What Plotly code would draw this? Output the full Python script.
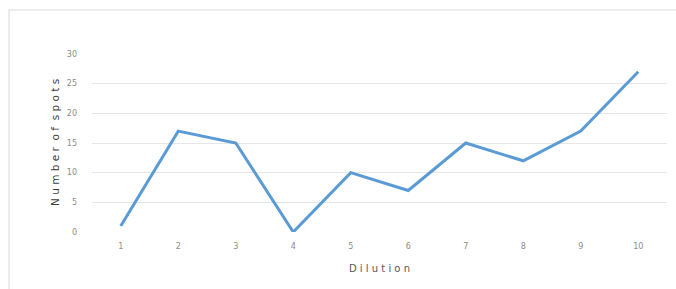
import plotly.graph_objects as go

dilution = [1, 2, 3, 4, 5, 6, 7, 8, 9, 10]
spots = [1, 17, 15, 0, 10, 7, 15, 12, 17, 27]
y_ticks = [0, 5, 10, 15, 20, 25, 30]
x_title = "D i l u t i o n"
y_title = "N u m b e r  o f  s p o t s"

W, H = 676, 289
L, R, T, B = 92, 9, 54, 57
pw, ph = W - L - R, H - T - B

def px_x(px):
    return (px - L) / pw

def px_y(py):
    return (H - B - py) / ph

fig = go.Figure()
fig.add_trace(go.Scatter(
    x=dilution, y=spots, mode="lines",
    line=dict(color="#5b9bd5", width=3),
    hoverinfo="skip",
))

tick_font = dict(family="DejaVu Sans, sans-serif", size=8, color="#8c8c8c")

fig.update_layout(
    width=W, height=H,
    margin=dict(l=L, r=R, t=T, b=B),
    paper_bgcolor="white", plot_bgcolor="white",
    showlegend=False,
    xaxis=dict(
        range=[0.5, 10.5], tickmode="array", tickvals=dilution,
        ticktext=[str(v) for v in dilution],
        showgrid=False, zeroline=False, showline=False, ticks="",
        tickfont=tick_font, ticklabelstandoff=8,
        title=dict(text=x_title, font=dict(family="DejaVu Sans, sans-serif", size=10, color="#595959"), standoff=14),
    ),
    yaxis=dict(
        range=[0, 30], tickmode="array", tickvals=y_ticks,
        showgrid=True, gridcolor="#e6e6e6", gridwidth=1,
        zeroline=False, showline=False, ticks="",
        tickfont=tick_font, ticklabelstandoff=14,
    ),
    shapes=[
        dict(type="line", xref="paper", yref="paper",
             x0=px_x(9), x1=px_x(676), y0=px_y(10), y1=px_y(10),
             line=dict(color="#d9d9d9", width=1)),
        dict(type="line", xref="paper", yref="paper",
             x0=px_x(9), x1=px_x(9), y0=px_y(10), y1=px_y(289),
             line=dict(color="#d9d9d9", width=1)),
    ],
    annotations=[
        dict(text=y_title, textangle=-90,
             xref="paper", yref="paper", x=px_x(55), y=px_y(143),
             xanchor="center", yanchor="middle", showarrow=False,
             font=dict(family="DejaVu Sans, sans-serif", size=10.5, color="#404040")),
    ],
)

fig.write_html("out.html", config={"displayModeBar": False},
               post_script="document.body.style.margin='0';")
